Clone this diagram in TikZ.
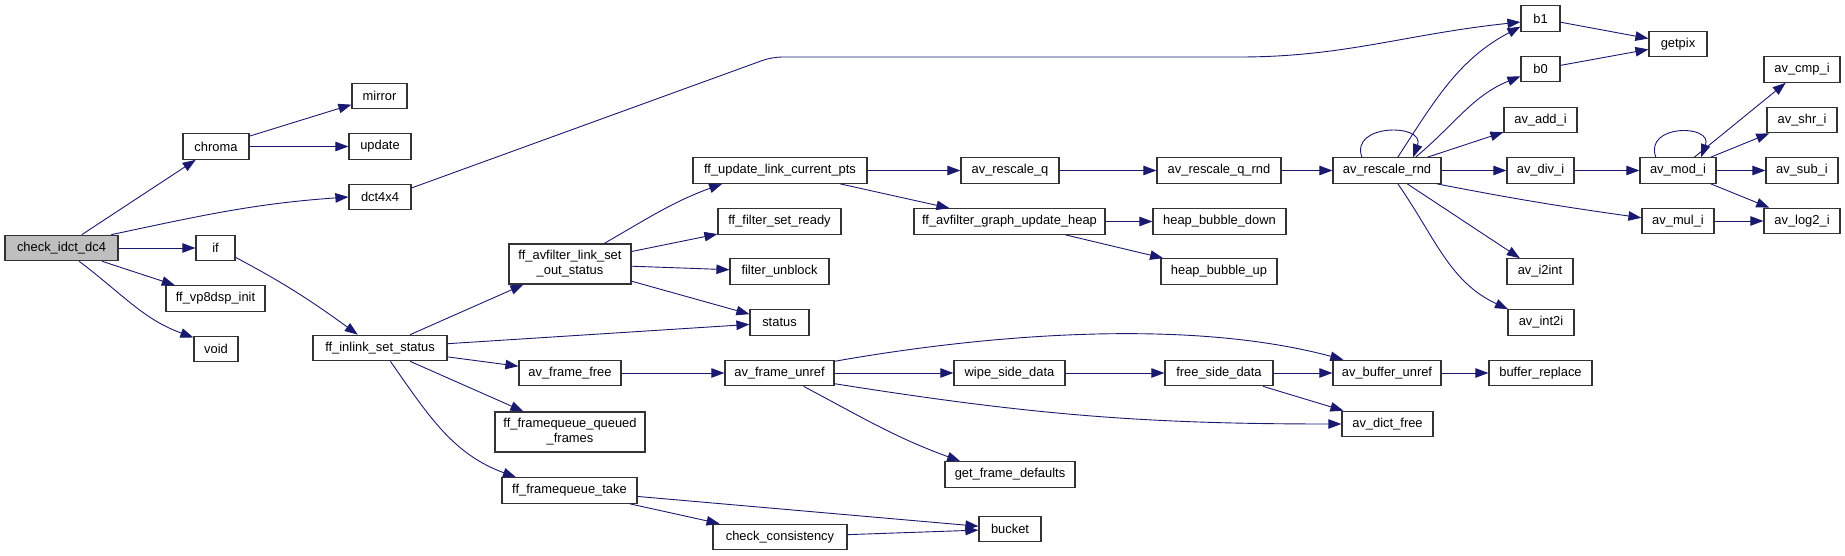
\documentclass[tikz,border=0pt]{standalone}
\usepackage{fontspec}
\setmainfont{Liberation Sans}
\usepackage{xcolor}
\usetikzlibrary{arrows.meta}

\definecolor{callblue}{HTML}{191970}
\definecolor{rootgray}{HTML}{BFBFBF}

\begin{document}
\begin{tikzpicture}[x=1pt, y=-1pt,
          font=\fontsize{12.9}{15}\selectfont,
          box/.style={draw=black!80, line width=1.2pt, fill=white,
                      minimum height=25.5pt, inner sep=0pt, text centered},
          call/.style={draw=callblue, line width=0.9pt,
                       -{Triangle[length=13pt, width=9.5pt]}, callblue}]
        \useasboundingbox (0,0) rectangle (1845,556);
        % root and first level
        \node[box, fill=rootgray, minimum width=113pt] (cidct) at (61.5,248) {check\_idct\_dc4};
        \node[box, minimum width=66pt]  (chroma) at (216,146.5) {chroma};
        \node[box, minimum width=39pt]  (if)     at (215.5,248) {if};
        \node[box, minimum width=99pt]  (vpinit) at (215.5,298.5) {ff\_vp8dsp\_init};
        \node[box, minimum width=44pt]  (void)   at (216,349) {void};
        \node[box, minimum width=55pt]  (mirror) at (379.5,96) {mirror};
        \node[box, minimum width=62pt]  (update) at (380,146.5) {update};
        \node[box, minimum width=62pt]  (dct)    at (380,197) {dct4x4};
        \node[box, minimum width=134pt] (inlink) at (380,348) {ff\_inlink\_set\_status};
        % filter side
        \node[box, minimum width=122pt, minimum height=40pt, align=center] (outst) at (570,264) {ff\_avfilter\_link\_set\\\_out\_status};
        \node[box, minimum width=102pt] (ffree)  at (570,373) {av\_frame\_free};
        \node[box, minimum width=150pt, minimum height=40pt, align=center] (fqqueued) at (570,432) {ff\_framequeue\_queued\\\_frames};
        \node[box, minimum width=135pt] (fqtake) at (569.5,490.5) {ff\_framequeue\_take};
        \node[box, minimum width=174pt] (curpts) at (780,170.5) {ff\_update\_link\_current\_pts};
        \node[box, minimum width=123pt] (setready) at (779.5,221.5) {ff\_filter\_set\_ready};
        \node[box, minimum width=99pt]  (unblock) at (779.5,271.5) {filter\_unblock};
        \node[box, minimum width=59pt]  (status) at (779.5,322.5) {status};
        \node[box, minimum width=109pt] (funref) at (779.5,373) {av\_frame\_unref};
        \node[box, minimum width=134pt] (consist) at (780,537) {check\_consistency};
        \node[box, minimum width=98pt]  (rescq)  at (1010,170.5) {av\_rescale\_q};
        \node[box, minimum width=191pt] (upheap) at (1009.5,221.5) {ff\_avfilter\_graph\_update\_heap};
        \node[box, minimum width=111pt] (wipe)   at (1009.5,373) {wipe\_side\_data};
        \node[box, minimum width=130pt] (defaults) at (1010,474.5) {get\_frame\_defaults};
        \node[box, minimum width=62pt]  (bucket) at (1010,529) {bucket};
        \node[box, minimum width=124pt] (rescqr) at (1219,170.5) {av\_rescale\_q\_rnd};
        \node[box, minimum width=133pt] (bdown)  at (1219.5,221.5) {heap\_bubble\_down};
        \node[box, minimum width=116pt] (bup)    at (1219,271.5) {heap\_bubble\_up};
        \node[box, minimum width=108pt] (freeside) at (1219,373) {free\_side\_data};
        \node[box, minimum width=108pt] (rescrnd) at (1387,170.5) {av\_rescale\_rnd};
        \node[box, minimum width=108pt] (bunref) at (1387,373) {av\_buffer\_unref};
        \node[box, minimum width=91pt]  (dfree)  at (1387.5,424) {av\_dict\_free};
        % integer helpers
        \node[box, minimum width=39pt]  (bone)   at (1540.5,18.5) {b1};
        \node[box, minimum width=39pt]  (bzero)  at (1540.5,69) {b0};
        \node[box, minimum width=73pt]  (addi)   at (1540.5,120) {av\_add\_i};
        \node[box, minimum width=67pt]  (divi)   at (1540.5,170.5) {av\_div\_i};
        \node[box, minimum width=66pt]  (itoint) at (1540,271.5) {av\_i2int};
        \node[box, minimum width=66pt]  (inttoi) at (1541,322.5) {av\_int2i};
        \node[box, minimum width=103pt] (breplace) at (1540.5,373) {buffer\_replace};
        \node[box, minimum width=58pt]  (getpix) at (1678,44) {getpix};
        \node[box, minimum width=76pt]  (modi)   at (1678,170.5) {av\_mod\_i};
        \node[box, minimum width=72pt]  (muli)   at (1678,221) {av\_mul\_i};
        \node[box, minimum width=76pt]  (cmpi)   at (1802,69.5) {av\_cmp\_i};
        \node[box, minimum width=70pt]  (shri)   at (1802,120) {av\_shr\_i};
        \node[box, minimum width=72pt]  (subi)   at (1802,170.5) {av\_sub\_i};
        \node[box, minimum width=76pt]  (logi)   at (1802,221) {av\_log2\_i};

        % calls from the root
        \draw[call] (cidct) -- (chroma);
        \draw[call] (cidct.15) to[out=12,in=184] (dct.west);
        \draw[call] (cidct) -- (if);
        \draw[call] (cidct) -- (vpinit);
        \draw[call] (cidct.-37) to[out=-37,in=160] (void.153);
        \draw[call] (chroma) -- (mirror);
        \draw[call] (chroma) -- (update);
        \draw[call, rounded corners=10pt] (dct.16) -- (772,57) -- (1230,57)
          to[out=0,in=186] (bone.190);
        \draw[call] (if.-25) to[out=-28,in=144] (inlink.149);
        % ff_inlink_set_status
        \draw[call] (inlink) -- (outst);
        \draw[call] (inlink) -- (status);
        \draw[call] (inlink) -- (ffree);
        \draw[call] (inlink) -- (fqqueued);
        \draw[call] (inlink.-52) to[out=-55,in=160] (fqtake.166);
        \draw[call] (outst.31) to[out=30,in=200] (curpts.193);
        \draw[call] (outst) -- (setready);
        \draw[call] (outst) -- (unblock);
        \draw[call] (outst) -- (status);
        \draw[call] (curpts) -- (rescq);
        \draw[call] (curpts) -- (upheap);
        \draw[call] (rescq) -- (rescqr);
        \draw[call] (rescqr) -- (rescrnd);
        \draw[call] (upheap) -- (bdown);
        \draw[call] (upheap) -- (bup);
        % av_rescale_rnd
        \draw[call] (rescrnd.152) to[out=110,in=70,looseness=1.8] (rescrnd.27);
        \draw[call] (rescrnd.51) to[out=57,in=208] (bone.202);
        \draw[call] (rescrnd.25) to[out=40,in=202] (bzero.200);
        \draw[call] (rescrnd) -- (addi);
        \draw[call] (rescrnd) -- (divi);
        \draw[call] (rescrnd.-15) to[out=-11,in=172] (muli.175);
        \draw[call] (rescrnd) -- (itoint);
        \draw[call] (rescrnd.-51) to[out=-55,in=155] (inttoi.158);
        \draw[call] (bone) -- (getpix);
        \draw[call] (bzero) -- (getpix);
        \draw[call] (divi) -- (modi);
        \draw[call] (modi.149) to[out=110,in=70,looseness=2] (modi.30);
        \draw[call] (modi) -- (cmpi);
        \draw[call] (modi) -- (shri);
        \draw[call] (modi) -- (subi);
        \draw[call] (modi) -- (logi);
        \draw[call] (muli) -- (logi);
        % frame freeing
        \draw[call] (ffree) -- (funref);
        \draw[call] (funref.12) to[out=10,in=165,looseness=0.8] (bunref.163);
        \draw[call] (funref) -- (wipe);
        \draw[call] (funref.-11) to[out=-9,in=180] (dfree.west);
        \draw[call] (funref.-29) to[out=-28,in=160] (defaults.165);
        \draw[call] (wipe) -- (freeside);
        \draw[call] (freeside) -- (bunref);
        \draw[call] (freeside) -- (dfree);
        \draw[call] (bunref) -- (breplace);
        % frame queue
        \draw[call] (fqtake) -- (bucket);
        \draw[call] (fqtake) -- (consist);
        \draw[call] (consist) -- (bucket);
      \end{tikzpicture}
\end{document}
